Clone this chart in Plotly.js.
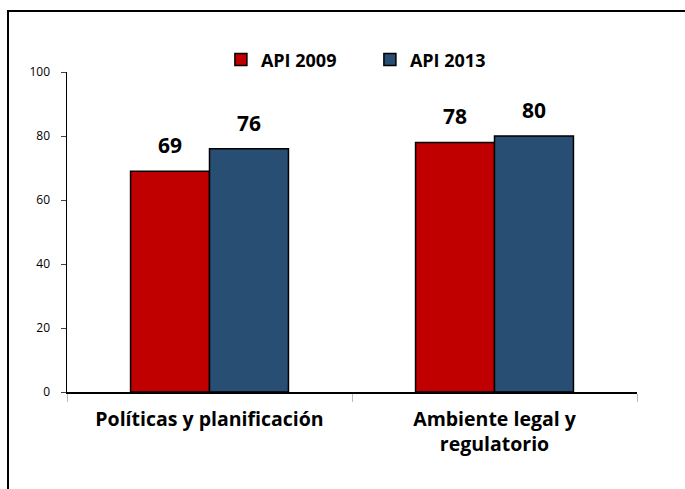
<!DOCTYPE html>
<html>
<head>
<meta charset="utf-8">
<script src="https://cdn.plot.ly/plotly-3.0.1.min.js"></script>
<style>
  html, body { margin: 0; padding: 0; background: #fff; }
  #wrap { position: relative; width: 685px; height: 489px; overflow: hidden; }
  #frame { position: absolute; left: 7px; top: 10px; width: 700px; height: 500px;
           border-left: 2px solid #000; border-top: 2px solid #000; pointer-events: none; }
  #chart { position: absolute; left: 0; top: 0; width: 685px; height: 489px; }
</style>
</head>
<body>
<div id="wrap">
  <div id="chart"></div>
  <div id="frame"></div>
</div>
<script>
// Categories and series
const categories = ["Políticas y planificación", "Ambiente legal y<br>regulatorio"];
const seriesNames = ["API 2009", "API 2013"];
const api2009 = [69, 78];
const api2013 = [76, 80];
const yTicks = [0, 20, 40, 60, 80, 100];

const colors = ["#C00000", "#294E73"];
const labelFont = "'Open Sans', Lato, sans-serif";

const traces = [api2009, api2013].map((vals, i) => ({
  type: "bar",
  name: seriesNames[i],
  x: categories,
  y: vals,
  marker: { color: colors[i], line: { color: "#000", width: 1.5 } },
  hoverinfo: "skip"
}));

// Value labels above each bar
const annotations = [];
[api2009, api2013].forEach((vals, i) => {
  vals.forEach((v, j) => {
    annotations.push({
      x: categories[j], y: v, xref: "x", yref: "y",
      text: "<b>" + v + "</b>", showarrow: false,
      xanchor: "center", yanchor: "bottom",
      xshift: i === 0 ? -39.5 : 39.5, yshift: 10,
      font: { family: labelFont, size: 21, color: "#000" }
    });
  });
});

const layout = {
  width: 685, height: 489,
  margin: { l: 67, r: 48, t: 72, b: 97 },
  paper_bgcolor: "rgba(0,0,0,0)",
  plot_bgcolor: "#fff",
  barmode: "group",
  bargap: 0.446,
  bargroupgap: 0,
  showlegend: true,
  legend: {
    orientation: "h", x: 0.27, y: 1.038, xanchor: "left", yanchor: "middle",
    font: { family: labelFont, size: 18, color: "#000", weight: "bold" },
    entrywidth: 104, entrywidthmode: "pixels",
    bgcolor: "rgba(0,0,0,0)"
  },
  xaxis: {
    type: "category",
    showline: true, linecolor: "#000", linewidth: 1.5,
    ticks: "outside", tickson: "boundaries", ticklen: 8, tickcolor: "#bbb", tickwidth: 1,
    tickfont: { family: labelFont, size: 19.5, color: "#000", weight: "bold" },
    ticklabelstandoff: 9,
    showgrid: false, zeroline: false, fixedrange: true
  },
  yaxis: {
    range: [0, 100],
    tickvals: yTicks, ticktext: yTicks.map(String),
    showline: true, linecolor: "#000", linewidth: 1.5,
    ticks: "outside", ticklen: 5, tickcolor: "#444", tickwidth: 1,
    tickfont: { family: labelFont, size: 12, color: "#000" },
    ticklabelstandoff: 8,
    showgrid: false, zeroline: false, fixedrange: true
  },
  annotations: annotations
};

Plotly.newPlot("chart", traces, layout, { displayModeBar: false, staticPlot: true });
</script>
</body>
</html>
